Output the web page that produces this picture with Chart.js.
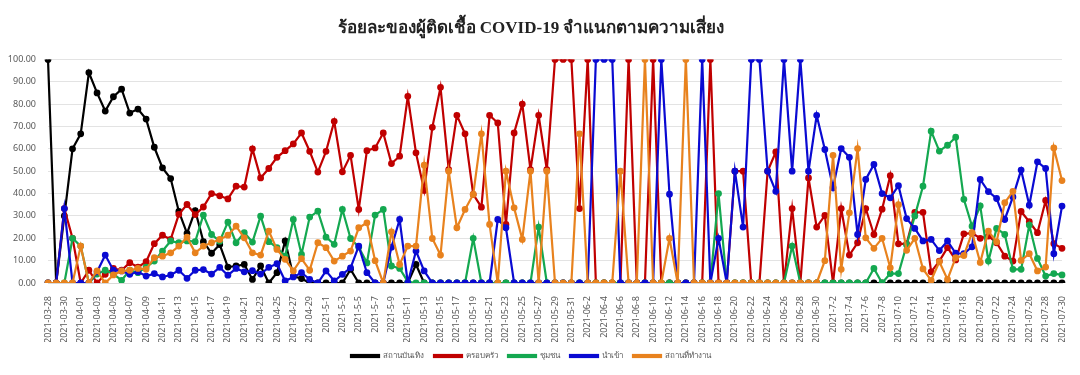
<!DOCTYPE html>
<html>
<head>
<meta charset="utf-8">
<script src="https://cdn.jsdelivr.net/npm/chart.js@4"></script>
<style>
  html, body { margin: 0; padding: 0; background: #fff; }
  #chart { display: block; }
</style>
</head>
<body>
<canvas id="chart" width="1080" height="375"></canvas>
<script>
const title = 'ร้อยละของผู้ติดเชื้อ COVID-19 จำแนกตามความเสี่ยง'

const dates = [
  '2021-03-28','2021-03-29','2021-03-30','2021-03-31',
  '2021-04-01','2021-04-02','2021-04-03','2021-04-04','2021-04-05','2021-04-06','2021-04-07','2021-04-08','2021-04-09','2021-04-10',
  '2021-04-11','2021-04-12','2021-04-13','2021-04-14','2021-04-15','2021-04-16','2021-04-17','2021-04-18','2021-04-19','2021-04-20',
  '2021-04-21','2021-04-22','2021-04-23','2021-04-24','2021-04-25','2021-04-26','2021-04-27','2021-04-28','2021-04-29','2021-04-30',
  '2021-5-1','2021-5-2','2021-5-3','2021-5-4','2021-5-5','2021-5-6','2021-5-7','2021-5-8','2021-5-9','2021-05-10',
  '2021-05-11','2021-05-12','2021-05-13','2021-05-14','2021-05-15','2021-05-16','2021-05-17','2021-05-18','2021-05-19','2021-05-20',
  '2021-05-21','2021-05-22','2021-05-23','2021-05-24','2021-05-25','2021-05-26','2021-05-27','2021-05-28','2021-05-29','2021-05-30','2021-05-31',
  '2021-06-1','2021-06-2','2021-06-3','2021-06-4','2021-06-5','2021-06-6','2021-06-7','2021-06-8','2021-06-9','2021-06-10',
  '2021-06-11','2021-06-12','2021-06-13','2021-06-14','2021-06-15','2021-06-16','2021-06-17','2021-06-18','2021-06-19','2021-06-20',
  '2021-06-21','2021-06-22','2021-06-23','2021-06-24','2021-06-25','2021-06-26','2021-06-27','2021-06-28','2021-06-29','2021-06-30',
  '2021-7-1','2021-7-2','2021-7-3','2021-7-4','2021-7-5','2021-7-6','2021-7-7','2021-7-8','2021-7-9','2021-07-10',
  '2021-07-11','2021-07-12','2021-07-13','2021-07-14','2021-07-15','2021-07-16','2021-07-17','2021-07-18','2021-07-19','2021-07-20',
  '2021-07-21','2021-07-22','2021-07-23','2021-07-24','2021-07-25','2021-07-26','2021-07-27','2021-07-28','2021-07-29','2021-07-30'
]

// สถานบันเทิง
const entertainment = [
  100, 0, 30, 60, 66.7, 94.1, 85, 76.9, 83.3, 86.7,
  76, 77.8, 73.3, 60.7, 51.5, 46.7, 32, 22.2, 32.4, 18.5,
  13.3, 17.2, 7.1, 7.6, 8.3, 1.6, 7.6, 0, 4.6, 18.8,
  3, 2, 0, 0, 0, 0, 0, 6.1, 0, 0,
  0, 0, 0, 0, 0, 8.3, 0, 0, 0, 0,
  0, 0, 0, 0, 0, 0, 0, 0, 0, 0,
  0, 0, 0, 0, 0, 0, 0, 0, 0, 0,
  0, 0, 0, 0, 0, 0, 0, 0, 0, 0,
  0, 0, 0, 0, 0, 0, 0, 0, 0, 0,
  0, 0, 0, 0, 0, 0, 0, 0, 0, 0,
  0, 0, 0, 0, 0, 0, 0, 0, 0, 0,
  0, 0, 0, 0, 0, 0, 0, 0, 0, 0,
  0, 0, 0, 0, 0
]

// ครอบครัว
const family = [
  0, 0, 33.3, 20, 0, 5.7, 0, 3.9, 6.5, 5.7,
  9.1, 7.1, 9.5, 17.6, 21.4, 19.5, 30.7, 35.1, 30.6, 34,
  40, 39, 37.6, 43.3, 42.9, 60, 47, 51.2, 56.2, 59.2,
  62.2, 67.1, 58.9, 49.6, 58.9, 72.3, 49.7, 57.1, 32.9, 59.2,
  60.4, 67.1, 53.4, 56.7, 83.5, 58.2, 41.4, 69.6, 87.5, 50.7,
  75, 66.7, 39.6, 33.9, 75, 71.6, 26.2, 67.1, 80, 50.7,
  75, 50.7, 100, 100, 100, 33.3, 100, 0, 0, 0,
  0, 100, 0, 0, 100, 0, 0, 0, 0, 0,
  0, 100, 0, 0, 50, 50, 0, 0, 50, 58.6,
  0, 33.3, 0, 47, 25, 30.2, 0, 33.3, 12.5, 18,
  33.3, 21.7, 33, 48, 17.5, 17.5, 31.6, 31.6, 5, 9.8,
  15.8, 10.3, 22, 22.3, 20, 21, 18, 12, 9.8, 32,
  27.4, 22.5, 36.9, 17.6, 15.5
]

// ชุมชน
const community = [
  0, 0, 0, 20, 16.5, 0, 4, 5.7, 4, 1.2,
  5.7, 4.6, 7.1, 9.8, 14.3, 18.8, 18, 18.8, 18.5, 30.4,
  21.7, 18.7, 27.2, 18, 22.5, 18.3, 29.9, 18.5, 15.8, 12,
  28.4, 12.8, 29.5, 32.1, 20.5, 17.3, 32.9, 19.9, 16, 9,
  30.4, 32.9, 7.6, 6.5, 0.6, 0, 0, 0, 0, 0,
  0, 0, 20, 0, 0, 0, 0, 0, 0, 0,
  25, 0, 0, 0, 0, 0, 0, 0, 0, 0,
  0, 0, 0, 0, 0, 0, 0, 0, 0, 0,
  0, 0, 40, 0, 0, 0, 0, 0, 0, 0,
  0, 16.5, 0, 0, 0, 0, 0, 0, 0, 0,
  0, 6.5, 0, 4.2, 4.2, 17, 30, 43.3, 67.9, 59,
  61.6, 65.2, 37.4, 25.4, 34.5, 9.8, 24.4, 21.7, 6.1, 6.1,
  25.9, 11, 3.1, 4.2, 3.6
]

// นำเข้า
const imported = [
  0, 0, 33.3, 0, 0, 0, 5, 12.5, 5.7, 5.4,
  3.9, 5, 3.1, 4.2, 2.7, 3.6, 5.7, 2.1, 5.7, 6,
  4, 7, 3.5, 6.5, 5, 5.5, 4, 7, 8.6, 0.9,
  2.7, 4.6, 1.6, 0, 5.4, 0.9, 3.9, 6.8, 16.5, 4.6,
  0, 0, 16, 28.4, 0, 14.3, 5.4, 0, 0, 0,
  0, 0, 0, 0, 0, 28.4, 24.7, 0, 0, 0,
  0, 0, 0, 0, 0, 0, 0, 100, 100, 100,
  0, 0, 0, 0, 0, 100, 39.7, 0, 0, 0,
  100, 0, 20, 0, 50, 25, 100, 100, 50, 41,
  100, 50, 100, 50, 75, 59.7, 42.6, 60.1, 56.2, 21.7,
  46.3, 53, 40, 38.1, 43.5, 28.8, 24.4, 18.8, 19.5, 14.5,
  18.8, 13.3, 13.1, 16.2, 46.3, 40.9, 37.8, 28.4, 38.5, 50.5,
  34.8, 54.2, 51.2, 13.1, 34.4
]

// สถานที่ทำงาน
const workplace = [
  0, 0, 0, 0, 16.5, 0, 5.4, 0, 3.6, 5.4,
  5.7, 6.5, 6.1, 11.3, 12, 13.5, 16.5, 20.5, 13.5, 16.5,
  18, 19.5, 21.4, 25.4, 20.2, 13.5, 12.5, 23.2, 15, 10.6,
  5.4, 10.9, 5.7, 18, 15.8, 9.8, 12, 14.3, 24.7, 26.9,
  10, 0, 22.9, 8.3, 16.5, 16.5, 52.7, 19.9, 12.5, 50,
  24.7, 32.9, 39.6, 66.7, 26.2, 0, 50, 33.6, 19.5, 50,
  0, 50, 0, 0, 0, 66.7, 0, 0, 0, 0,
  50, 0, 0, 100, 0, 0, 20, 0, 100, 0,
  0, 0, 0, 0, 0, 0, 0, 0, 0, 0,
  0, 0, 0, 0, 0, 10, 57.1, 6.1, 31.4, 60.1,
  20.2, 15.5, 20, 6.8, 35, 14.6, 20, 6.3, 1.2, 9.5,
  1.6, 11.3, 12.3, 22.5, 9.2, 23.2, 18.4, 35.9, 41, 10.1,
  13.1, 5.4, 7.1, 60.4, 45.8
]

const serie = (label, data, color) => ({
  label,
  data,
  borderColor: color,
  backgroundColor: color,
  pointBackgroundColor: color,
  pointBorderColor: color,
  borderWidth: 2.2,
  pointRadius: 2.3,
  tension: 0,
  fill: false,
})

// excel draws the last series on top, chart.js the first one -> reversed here, legend reversed back
const datasets = [
  serie('สถานที่ทำงาน', workplace, '#E8821E'),
  serie('นำเข้า', imported, '#0A0AD2'),
  serie('ชุมชน', community, '#14A850'),
  serie('ครอบครัว', family, '#C00000'),
  serie('สถานบันเทิง', entertainment, '#000000'),
]

const gray = '#595959'
const uiFont = "'Noto Sans', 'DejaVu Sans', sans-serif"

new Chart(document.getElementById('chart'), {
  type: 'line',
  data: { labels: dates, datasets },
  options: {
    responsive: false,
    animation: false,
    layout: { padding: { left: 0, right: 18, top: 0, bottom: 5 } },
    plugins: {
      title: {
        display: true,
        text: title,
        color: '#222',
        font: { family: "'Liberation Serif', 'DejaVu Serif', serif", size: 17, weight: 'bold' },
        padding: { top: 18, bottom: 21 },
      },
      legend: {
        position: 'bottom',
        reverse: true,
        labels: {
          boxWidth: 28,
          boxHeight: 2,
          color: gray,
          padding: 10,
          font: { family: uiFont, size: 8 },
        },
      },
      tooltip: { enabled: false },
    },
    scales: {
      x: {
        offset: false,
        grid: { display: false },
        border: { color: '#d9d9d9' },
        afterFit: (scale) => { scale.height = 59 },
        ticks: {
          autoSkip: false,
          minRotation: 90,
          maxRotation: 90,
          padding: 5,
          color: gray,
          font: { family: uiFont, size: 9 },
          callback: (value, index) => (index % 2 === 0 ? dates[index] : ''),
        },
      },
      y: {
        min: 0,
        max: 100,
        afterFit: (scale) => { scale.width = 48 },
        border: { display: false },
        grid: { color: '#e3e3e3', drawTicks: false },
        ticks: {
          stepSize: 10,
          padding: 12,
          color: gray,
          font: { family: uiFont, size: 9 },
          callback: (value) => value.toFixed(2),
        },
      },
    },
  },
})
</script>
</body>
</html>
